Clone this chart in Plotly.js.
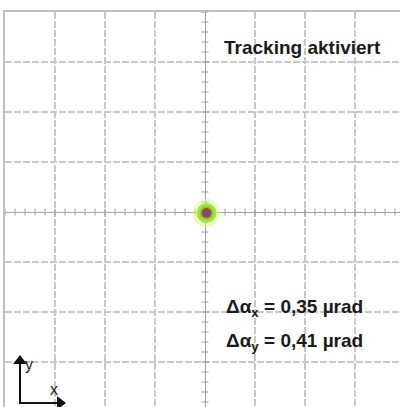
<!DOCTYPE html>
<html><head><meta charset="utf-8">
<script src="https://cdn.plot.ly/plotly-3.0.1.min.js"></script>
<style>html,body{margin:0;padding:0;overflow:hidden;background:#fff;width:400px;height:407px}</style>
</head><body><div id="chart"></div>
<script>
// Beam spot position (divisions)
var spotX = [0.03];
var spotY = [-0.02];
// Display texts
var statusText = "Tracking aktiviert";
var deltaLabels = ["Δα<sub>x</sub> = 0,35 µrad", "Δα<sub>y</sub> = 0,41 µrad"];
var axisIconLabels = ["x", "y"];
// Axis icon (top tip, corner, right tip) in divisions
var iconX = [-3.7, -3.7, -2.9];
var iconY = [-2.98, -3.82, -3.82];
// Graticule: 8 x 8 divisions, 5 minor ticks per division
var divRange = [-4, 4];
var minorStep = 0.2;

var minorTicks = [];
for (var v = divRange[0]; v <= divRange[1] + 1e-9; v += minorStep) minorTicks.push(Math.round(v * 100) / 100);
var zeros = minorTicks.map(function(){ return 0; });

var traces = [
  {x: minorTicks, y: zeros, mode: 'markers', hoverinfo: 'skip', showlegend: false,
   marker: {symbol: 'line-ns', size: 5, line: {color: '#9a9a9a', width: 1}}},
  {x: zeros, y: minorTicks, mode: 'markers', hoverinfo: 'skip', showlegend: false,
   marker: {symbol: 'line-ew', size: 5, line: {color: '#9a9a9a', width: 1}}},
  {x: [divRange[0], -0.6], y: [0, 0], mode: 'lines', hoverinfo: 'skip', showlegend: false,
   line: {color: 'rgba(235,225,120,0.45)', width: 1}},
  // beam spot layers
  {x: spotX, y: spotY, mode: 'markers', hoverinfo: 'skip', showlegend: false,
   marker: {size: 28, color: 'rgba(225,245,150,0.55)', line: {width: 0}}},
  {x: spotX, y: spotY, mode: 'markers', hoverinfo: 'skip', showlegend: false,
   marker: {size: 20, color: '#a6e04a', line: {width: 0}}},
  {x: spotX, y: spotY, mode: 'markers', hoverinfo: 'skip', showlegend: false,
   marker: {size: 14, color: '#7fd02a', line: {width: 0}}},
  {x: spotX, y: spotY, mode: 'markers', hoverinfo: 'skip', showlegend: false,
   marker: {size: 10, color: '#b8402c', line: {width: 0}}},
  {x: spotX, y: spotY, mode: 'markers', hoverinfo: 'skip', showlegend: false,
   marker: {size: 6, color: '#6a4c9c', line: {width: 0}}},
  // axis icon
  {x: iconX, y: iconY, mode: 'lines', hoverinfo: 'skip', showlegend: false,
   line: {color: '#111', width: 2}},
  {x: [iconX[0], iconX[2]], y: [iconY[0], iconY[2]], mode: 'markers', hoverinfo: 'skip', showlegend: false,
   marker: {symbol: ['triangle-up', 'triangle-right'], size: 12, color: '#111', line: {width: 0}}}
];

var txtFont = {family: 'Liberation Sans, Arial, sans-serif', size: 19, color: '#1a1a1a', weight: 'bold'};
var iconFont = {family: 'Liberation Sans, Arial, sans-serif', size: 16, color: '#1a1a1a'};
var layout = {
  width: 410, height: 420,
  margin: {l: 5, r: 5, t: 12, b: 8},
  paper_bgcolor: '#ffffff', plot_bgcolor: '#ffffff',
  showlegend: false,
  xaxis: {range: divRange, dtick: 1, tick0: 0, showticklabels: false, ticks: '',
          showgrid: true, gridcolor: '#c8c8c8', gridwidth: 1.2, griddash: '7px,2px',
          zeroline: true, zerolinecolor: '#a0a0a0', zerolinewidth: 1,
          showline: true, mirror: true, linecolor: '#c0c0c0', linewidth: 2, fixedrange: true},
  yaxis: {range: divRange, dtick: 1, tick0: 0, showticklabels: false, ticks: '',
          showgrid: true, gridcolor: '#c8c8c8', gridwidth: 1.2, griddash: '7px,2px',
          zeroline: true, zerolinecolor: '#a0a0a0', zerolinewidth: 1,
          showline: true, mirror: true, linecolor: '#c0c0c0', linewidth: 2, fixedrange: true},
  annotations: [
    {x: 0.34, y: 3.3, xref: 'x', yref: 'y', text: statusText, showarrow: false,
     xanchor: 'left', yanchor: 'middle', font: txtFont},
    {x: 0.38, y: -1.92, xref: 'x', yref: 'y', text: deltaLabels[0], showarrow: false,
     xanchor: 'left', yanchor: 'middle', font: txtFont},
    {x: 0.38, y: -2.6, xref: 'x', yref: 'y', text: deltaLabels[1], showarrow: false,
     xanchor: 'left', yanchor: 'middle', font: txtFont},
    {x: -3.52, y: -3.04, xref: 'x', yref: 'y', text: axisIconLabels[1], showarrow: false, font: iconFont},
    {x: -3.02, y: -3.54, xref: 'x', yref: 'y', text: axisIconLabels[0], showarrow: false, font: iconFont}
  ]
};

Plotly.newPlot('chart', traces, layout, {displayModeBar: false, staticPlot: true});
</script></body></html>
